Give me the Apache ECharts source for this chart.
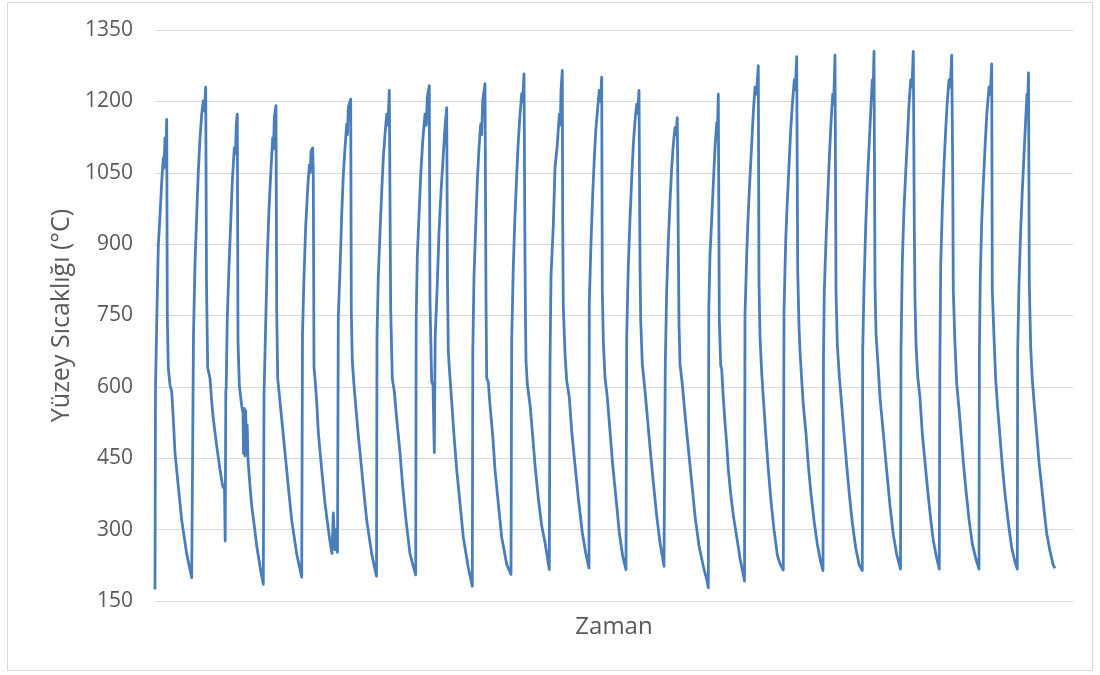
<!DOCTYPE html>
<html>
<head>
<meta charset="utf-8">
<script src="https://cdn.jsdelivr.net/npm/echarts@6/dist/echarts.min.js"></script>
<style>
  html, body { margin: 0; padding: 0; background: #ffffff; }
  #chart { width: 1100px; height: 675px; }
</style>
</head>
<body>
<div id="chart"></div>
<script>
// Surface temperature readings: [time, °C], one array per heating/cooling cycle
const c01 = [[0,174],[0.5,597],[1.7,732],[3.3,896],[5,960],[6.7,1031],[8.3,1081],[9,1060],[10,1123],[11,1100],[11.7,1162],[12.3,746],[13.3,640],[15,604],[16.7,590],[18.3,533],[20,462],[23.3,391],[26.7,320],[31.7,249],[36.7,199],[38,195]];
const c02 = [[38.5,710],[40,860],[41.7,960],[43.3,1052],[45,1123],[46.7,1173],[48.3,1201],[49.5,1180],[50.7,1230],[51.5,817],[52.7,640],[55,618],[56.7,569],[58.3,533],[61.7,476],[65,426],[67.7,391],[69.5,385],[70.2,276]];
const c03 = [[70.8,590],[71.2,600],[72.3,746],[74,853],[75.7,945],[77.3,1031],[79.3,1102],[80.5,1090],[81.3,1152],[82.3,1173],[83,697],[84.3,604],[86.7,560],[88,545],[88.5,460],[89.3,555],[90,455],[90.7,550],[91.5,460],[92.2,520],[93,447],[95,392],[96.7,350],[99.3,308],[101.7,266],[103.3,245],[106,210],[108.3,185]];
const c04 = [[109,583],[110.7,732],[112.3,874],[114,974],[116,1059],[117.7,1123],[118.5,1100],[119.3,1166],[121,1191],[121.7,761],[122.7,618],[125,569],[126.7,533],[130,462],[133.3,391],[136.7,320],[141.7,249],[146.7,200]];
const c05 = [[147.5,711],[149,832],[150.7,938],[152.7,1017],[154.3,1066],[155.3,1050],[156,1095],[157.7,1102],[158.3,1050],[159,640],[160,618],[161.7,569],[163.3,505],[166.7,426],[170,355],[173,306],[175,275],[177,250],[178.3,335],[179.2,290],[180,258],[181,300],[182.5,252]];
const c06 = [[183.3,746],[185,846],[186.7,960],[188.3,1045],[190,1102],[191.7,1152],[192.5,1130],[193.3,1187],[195.7,1205],[196.3,761],[197.3,654],[199,604],[201,554],[203.3,498],[205.7,448],[208.3,391],[211.7,320],[216.7,249],[221.5,202]];
const c07 = [[222,704],[223.3,832],[225,924],[226.7,1009],[228.3,1081],[230,1130],[231.7,1173],[233,1150],[234.3,1223],[235.7,761],[237.3,618],[239.3,590],[241.7,533],[245,462],[247.7,391],[251,320],[255,249],[258,225],[260.7,205]];
const c08 = [[261.2,746],[262.3,874],[264,960],[265.7,1045],[267.7,1116],[270,1173],[271.3,1150],[272.3,1209],[274.3,1233],[275,782],[276,675],[276.7,611],[278,604],[279.3,462],[280.2,704],[282.3,817],[284,924],[286,1009],[288.3,1088],[290,1145],[291.7,1187],[292.5,820],[293.3,675],[294.3,640],[296.7,569],[299,498],[301.7,426],[305,355],[308.3,284],[313.3,220],[317.3,181]];
const c09 = [[317.8,675],[319,832],[320.7,938],[322.3,1031],[324,1102],[325.7,1152],[326.7,1130],[327.7,1201],[330,1237],[331,782],[331.7,618],[333.3,610],[335,562],[337.7,498],[340,426],[343.3,355],[346.7,284],[351.7,227],[356,206]];
const c10 = [[356.7,697],[358.3,853],[360,960],[361.7,1045],[363.3,1116],[365,1173],[366.7,1216],[367.7,1200],[369,1258],[370,868],[370.5,741],[371,655],[372.3,606],[375,563],[377.3,507],[380,436],[383.3,366],[386.7,308],[390,273],[394.3,216]];
const c11 = [[395,648],[396,833],[398.3,939],[400,1060],[402.3,1109],[404.3,1173],[405.3,1150],[406,1223],[407.3,1265],[407.7,946],[408.3,769],[410,670],[411.7,613],[414.3,578],[416.7,507],[420,436],[423.3,366],[427.3,294],[430.7,251],[434,219]];
const c12 = [[434.3,776],[436,904],[437.7,1003],[439.3,1081],[441,1145],[442.7,1187],[444.3,1223],[445.5,1200],[446.7,1251],[447.3,804],[448.3,698],[450,620],[452.3,578],[455,507],[457.7,436],[461,366],[464.3,294],[467.7,244],[471,216]];
const c13 = [[471.7,705],[473.3,854],[475,953],[476.7,1038],[478.3,1109],[480,1159],[481.7,1194],[482.7,1175],[484,1223],[485,861],[485.7,741],[487.3,648],[490,592],[492.7,528],[495.7,457],[498.3,400],[501.7,329],[505,273],[509,223]];
const c14 = [[510.3,648],[511.7,804],[513.3,904],[515,989],[516.7,1060],[518.3,1109],[520,1145],[521,1130],[522.3,1166],[523.3,904],[524,733],[525,648],[527.3,606],[530,542],[533.3,471],[536.7,400],[540,329],[544,266],[548.3,223],[551.7,195],[553.3,178]];
const c15 = [[553.8,765],[555,877],[556.7,952],[558.3,1027],[560,1102],[561.7,1155],[562.5,1140],[563.3,1215],[564.3,742],[565.7,645],[566.7,637],[568.3,577],[570,525],[571.7,480],[573.3,427],[575.7,375],[578.3,330],[581.7,285],[585,240],[589.5,192]];
const c16 = [[590,750],[591.7,877],[593.3,967],[595,1042],[596.7,1110],[598.3,1177],[600,1230],[601.5,1215],[603.3,1275],[604,817],[605,705],[606.7,630],[608.3,577],[610.7,502],[613.3,427],[616,360],[619,300],[622.3,247],[625,228],[628.3,215]];
const c17 = [[629,757],[630.7,907],[632.3,990],[634,1065],[635.7,1140],[637.3,1192],[639.3,1245],[640.3,1225],[641.7,1294],[642.7,847],[644,727],[645,675],[646.7,615],[648.3,562],[651,502],[653.3,435],[656,375],[659.3,315],[662.3,270],[665.7,232],[668,214]];
const c18 = [[668.5,667],[669.3,802],[671,907],[672.7,997],[674.3,1080],[676,1155],[677.7,1215],[678.7,1195],[680,1297],[681,802],[682.3,690],[684.3,622],[686.7,562],[689,502],[691.7,435],[694.3,375],[697.3,315],[700.7,262],[704.3,225],[707.3,214]];
const c19 = [[707.7,675],[709,810],[710.7,937],[712.3,1027],[714,1102],[715.7,1177],[717.3,1245],[718.2,1225],[719,1305],[720,817],[721,712],[723.3,637],[725,577],[728,510],[731,440],[735,350],[738.3,290],[741.7,248],[745.5,217]];
const c20 = [[746,675],[747.3,862],[749,975],[750.7,1050],[752.3,1117],[754,1192],[755.7,1245],[757,1230],[758.3,1305],[759.3,937],[760,787],[761,690],[762.7,622],[765,577],[767.3,502],[770,442],[772.7,382],[775.7,322],[778.3,277],[781.7,240],[784.3,217]];
const c21 = [[784.8,622],[785.7,855],[787.3,975],[789,1065],[790.7,1140],[792.3,1200],[794,1245],[795.3,1230],[796.7,1297],[797.7,1057],[798.3,802],[800,690],[801.7,607],[804,555],[806,502],[808.3,442],[811,382],[814,322],[817.3,270],[820.7,240],[824,217]];
const c22 = [[824.4,675],[825.3,832],[826.7,945],[828.3,1027],[830,1102],[831.7,1170],[834,1230],[835.3,1215],[836.7,1279],[837.3,802],[839,705],[840.7,615],[842.7,555],[845,495],[847.3,435],[850,375],[853.3,315],[856.7,262],[860,232],[862.3,217]];
const c23 = [[862.7,675],[864,817],[865.7,930],[867.3,1012],[869,1087],[870.7,1162],[872,1215],[872.7,1200],[873.5,1260],[874.3,817],[875.7,682],[877.3,615],[879.3,562],[881.7,502],[884,442],[886.7,390],[889.3,337],[891.7,292],[895,255],[898.3,225],[900,219]];

const cycles = [c01,c02,c03,c04,c05,c06,c07,c08,c09,c10,c11,c12,c13,c14,c15,c16,c17,c18,c19,c20,c21,c22,c23];
const yTicks = { min: 150, max: 1350, step: 150 };
const timeRange = { min: 0, max: 918 };
const xTitle = 'Zaman';
const yTitle = 'Yüzey Sıcaklığı (°C)';

const seriesData = [].concat(...cycles);

const chart = echarts.init(document.getElementById('chart'), null, { renderer: 'canvas' });
const FONT = '"Open Sans", "Noto Sans", sans-serif';
chart.setOption({
  animation: false,
  backgroundColor: '#ffffff',
  graphic: [{
    type: 'rect',
    shape: { x: 7.5, y: 2.5, width: 1085, height: 668 },
    style: { fill: 'none', stroke: '#d9d9d9', lineWidth: 1 },
    silent: true
  }],
  grid: { left: 155, right: 27, top: 30, bottom: 74 },
  xAxis: {
    type: 'value',
    min: timeRange.min,
    max: timeRange.max,
    name: xTitle,
    nameLocation: 'middle',
    nameGap: 14,
    nameTextStyle: { fontFamily: FONT, fontSize: 24, color: '#595959' },
    axisLine: { show: true, lineStyle: { color: '#d9d9d9', width: 1 } },
    axisTick: { show: false },
    axisLabel: { show: false },
    splitLine: { show: false }
  },
  yAxis: {
    type: 'value',
    min: yTicks.min,
    max: yTicks.max,
    interval: yTicks.step,
    name: yTitle,
    nameLocation: 'middle',
    nameGap: 62,
    nameRotate: 90,
    nameTextStyle: { fontFamily: FONT, fontSize: 25, color: '#595959' },
    axisLine: { show: false },
    axisTick: { show: false },
    axisLabel: {
      fontFamily: FONT, fontSize: 21, color: '#595959', margin: 22,
      formatter: function (v) { return String(v); }
    },
    splitLine: { show: true, lineStyle: { color: '#d9d9d9', width: 1 } }
  },
  series: [{
    type: 'line',
    data: seriesData,
    showSymbol: false,
    symbol: 'none',
    lineStyle: { color: '#4a7ebb', width: 2.8, join: 'round' },
    clip: true
  }]
});
</script>
</body>
</html>
